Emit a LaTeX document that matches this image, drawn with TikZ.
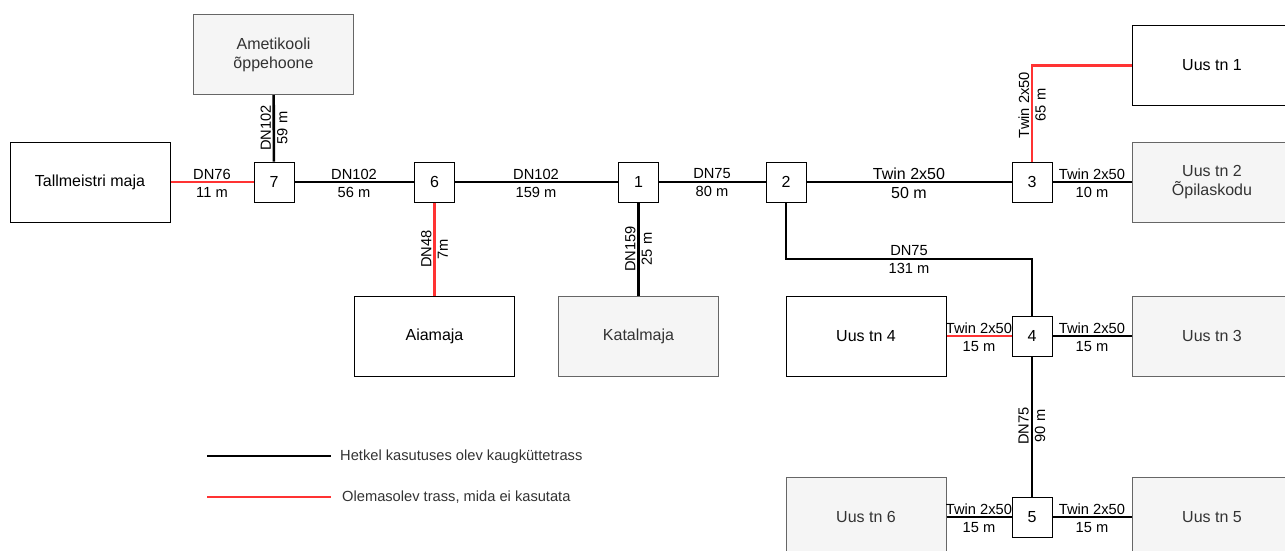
\documentclass[tikz,border=0pt]{standalone}
\usepackage{fontspec}
\setmainfont{Liberation Sans}
\definecolor{grayfill}{HTML}{F5F5F5}
\definecolor{grayline}{HTML}{666666}
\definecolor{graytext}{HTML}{333333}
\definecolor{pipered}{HTML}{FF3333}
\tikzset{
  bldg/.style={draw=black, fill=white, line width=1pt, minimum width=160pt, minimum height=80pt, inner sep=0pt, font=\fontsize{16}{19}\selectfont, align=center},
  bldggray/.style={bldg, draw=grayline, fill=grayfill, text=graytext},
  junc/.style={draw=black, fill=white, line width=1pt, minimum size=40pt, inner sep=0pt, font=\fontsize{16}{19}\selectfont},
  pipe/.style={line width=2.6pt, black},
  oldpipe/.style={line width=2.6pt, pipered},
  lbl/.style={font=\fontsize{14.67}{18}\selectfont, align=center, inner sep=0pt, text=black},
  biglbl/.style={lbl, font=\fontsize{16}{19}\selectfont},
  vlbl/.style={lbl, rotate=90, font=\fontsize{14.67}{16.5}\selectfont},
  legtxt/.style={font=\fontsize{14.67}{18}\selectfont, inner sep=0pt, anchor=west, text=graytext}
}
\begin{document}
\begin{tikzpicture}[x=1pt, y=-1pt]
\useasboundingbox (0,0) rectangle (1285,550);
\clip (0,0) rectangle (1285,550);
\fill[white] (0,0) rectangle (1285,550);

% buildings
\node[bldg] (tall) at (90,182) {Tallmeistri maja};
\node[bldggray] (amet) at (273.5,54.5) {Ametikooli\\õppehoone};
\node[bldg] (aia) at (434.5,336.5) {Aiamaja};
\node[bldggray] (kat) at (638.5,336.5) {Katalmaja};
\node[bldg] (uus1) at (1212,65.5) {Uus tn 1};
\node[bldggray] (uus2) at (1212,182) {Uus tn 2\\Õpilaskodu};
\node[bldg] (uus4) at (866,336) {Uus tn 4};
\node[bldggray] (uus3) at (1212,336) {Uus tn 3};
\node[bldggray] (uus6) at (866,517) {Uus tn 6};
\node[bldggray] (uus5) at (1212,517) {Uus tn 5};

% junctions
\node[junc] (n7) at (274,182) {7};
\node[junc] (n6) at (434.5,182) {6};
\node[junc] (n1) at (638.5,182) {1};
\node[junc] (n2) at (786,182) {2};
\node[junc] (n3) at (1032,182) {3};
\node[junc] (n4) at (1032,336) {4};
\node[junc] (n5) at (1032,517) {5};

\coordinate (k1) at (786,259);
\coordinate (k2) at (1032,259);

% pipes
\draw[oldpipe] (tall) -- (n7);
\draw[pipe] (amet) -- (n7);
\draw[pipe] (n7) -- (n6);
\draw[oldpipe] (n6) -- (aia);
\draw[pipe] (n6) -- (n1);
\draw[pipe] (n1) -- (kat);
\draw[pipe] (n1) -- (n2);
\draw[pipe] (n2) -- (n3);
\draw[oldpipe] (n3) |- (uus1);
\draw[pipe] (n3) -- (uus2);
\draw[pipe] (n2) -- (k1) -- (k2) -- (n4);
\draw[oldpipe] (uus4) -- (n4);
\draw[pipe] (n4) -- (uus3);
\draw[pipe] (n4) -- (n5);
\draw[pipe] (uus6) -- (n5);
\draw[pipe] (n5) -- (uus5);

% labels
\node[lbl] (l76) at (212,183) {DN76\\11 m};
\node[lbl] (l56) at (354,183) {DN102\\56 m};
\node[lbl] (l159) at (536,183) {DN102\\159 m};
\node[lbl] (l80) at (712,183) {DN75\\80 m};
\node[biglbl] (l50) at (909,183) {Twin 2x50\\50 m};
\node[lbl] (l10) at (1092,183) {Twin 2x50\\10 m};
\node[vlbl] (l59) at (274,128) {DN102\\59 m};
\node[vlbl] (l7) at (434.5,249) {DN48\\7m};
\node[vlbl] (l25) at (638.5,249) {DN159\\25 m};
\node[vlbl] (l65) at (1032,105) {Twin 2x50\\65 m};
\node[lbl] (l131) at (909,260) {DN75\\131 m};
\node[vlbl] (l90) at (1032,426) {DN75\\90 m};
\node[lbl] (l15a) at (979,337) {Twin 2x50\\15 m};
\node[lbl] (l15b) at (1092,337) {Twin 2x50\\15 m};
\node[lbl] (l15c) at (979,518) {Twin 2x50\\15 m};
\node[lbl] (l15d) at (1092,518) {Twin 2x50\\15 m};

% legend
\coordinate (la1) at (207,456);
\coordinate (la2) at (331,456);
\coordinate (lb1) at (207,497);
\coordinate (lb2) at (331,497);
\draw[pipe] (la1) -- (la2);
\draw[oldpipe] (lb1) -- (lb2);
\node[legtxt] (lt1) at (340,457) {Hetkel kasutuses olev kaugküttetrass};
\node[legtxt] (lt2) at (342,497) {Olemasolev trass, mida ei kasutata};
\end{tikzpicture}
\end{document}
